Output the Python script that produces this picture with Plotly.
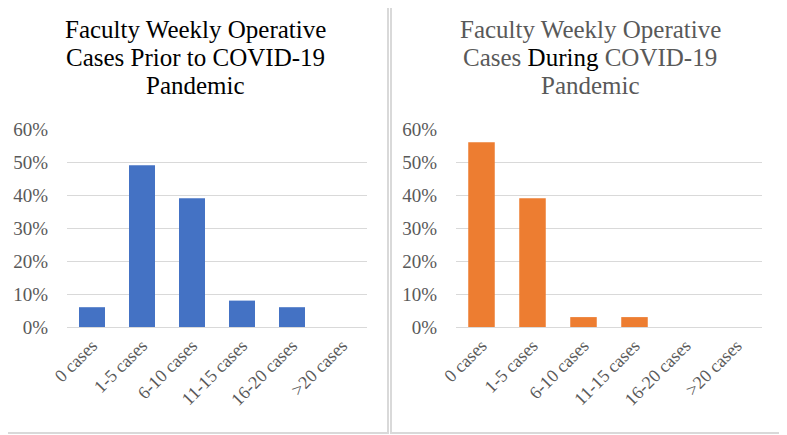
import plotly.graph_objects as go

categories = ["0 cases", "1-5 cases", "6-10 cases", "11-15 cases", "16-20 cases", ">20 cases"]
prior_values = [0.06, 0.49, 0.39, 0.08, 0.06, 0.0]
during_values = [0.56, 0.39, 0.03, 0.03, 0.0, 0.0]
y_ticks = [0, 0.1, 0.2, 0.3, 0.4, 0.5, 0.6]
y_ticklabels = ["0%", "10%", "20%", "30%", "40%", "50%", "60%"]
title_left = ["Faculty Weekly Operative", "Cases Prior to COVID-19", "Pandemic"]
title_right = ["Faculty Weekly Operative",
               "Cases <span style='color:black'>During</span> COVID-19", "Pandemic"]

# page body has an 8px margin; figure sized to fit the 787x435 window
OFF = 8
W, H = 787 - OFF, 435 - OFF
FONT = "Liberation Serif, Times New Roman, serif"
GRAY = "#595959"
BORDER = "#d9d9d9"

fig = go.Figure()
fig.add_trace(go.Bar(x=categories, y=prior_values, marker_color="#4472C4",
                     xaxis="x", yaxis="y", showlegend=False))
fig.add_trace(go.Bar(x=categories, y=during_values, marker_color="#ED7D31",
                     xaxis="x2", yaxis="y2", showlegend=False))

def px_x(v):
    return (v - OFF) / W

def px_y(v):
    return (H - (v - OFF)) / H

yaxis_common = dict(range=[0, 0.6], tickvals=y_ticks, ticktext=y_ticklabels,
                    showgrid=True, gridcolor=BORDER, gridwidth=1, zeroline=False,
                    showline=False, ticks="", ticklabelstandoff=18, automargin=False,
                    tickfont=dict(family=FONT, size=19, color=GRAY),
                    domain=[px_y(327), px_y(129)], fixedrange=True)
xaxis_common = dict(tickangle=-45, showgrid=False, zeroline=False, showline=True,
                    linecolor=BORDER, linewidth=1, ticks="", automargin=False,
                    tickfont=dict(family=FONT, size=18, color=GRAY), fixedrange=True)

annotations = []
line_centers = [29, 57.5, 86]
for i, (tl, tr) in enumerate(zip(title_left, title_right)):
    annotations.append(dict(text=tl, xref="paper", yref="paper", x=px_x(195),
                            y=px_y(line_centers[i]), xanchor="center", yanchor="middle",
                            showarrow=False, font=dict(family=FONT, size=25, color="black")))
    annotations.append(dict(text=tr, xref="paper", yref="paper", x=px_x(590),
                            y=px_y(line_centers[i]), xanchor="center", yanchor="middle",
                            showarrow=False, font=dict(family=FONT, size=25, color=GRAY)))

fig.update_layout(
    template="none",
    width=W, height=H,
    margin=dict(l=0, r=0, t=0, b=0, autoexpand=False),
    paper_bgcolor="white", plot_bgcolor="white",
    bargap=0.48,
    showlegend=False,
    xaxis=dict(xaxis_common, domain=[px_x(67), px_x(367)], anchor="y"),
    yaxis=dict(yaxis_common, anchor="x"),
    xaxis2=dict(xaxis_common, domain=[px_x(456), px_x(762)], anchor="y2"),
    yaxis2=dict(yaxis_common, anchor="x2"),
    shapes=[
        dict(type="rect", xref="paper", yref="paper", x0=px_x(1), x1=px_x(388),
             y0=px_y(433), y1=px_y(1), line=dict(color=BORDER, width=2)),
        dict(type="rect", xref="paper", yref="paper", x0=px_x(391), x1=px_x(785),
             y0=px_y(433), y1=px_y(1), line=dict(color=BORDER, width=2)),
    ],
    annotations=annotations,
)

fig.write_html("out.html")
